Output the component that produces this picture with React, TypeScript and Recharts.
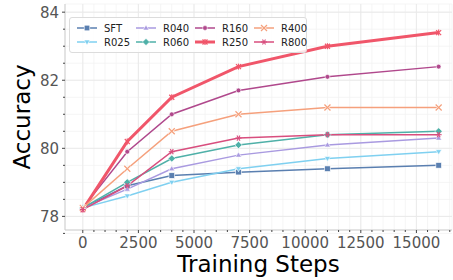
import React from 'react';
import { LineChart, Line, XAxis, YAxis, CartesianGrid, ReferenceLine } from 'recharts';

const steps = [0, 2000, 4000, 7000, 11000, 16000];

const sft = [78.25, 78.9, 79.2, 79.3, 79.4, 79.5];
const r025 = [78.25, 78.6, 79.0, 79.4, 79.7, 79.9];
const r040 = [78.25, 78.8, 79.4, 79.8, 80.1, 80.3];
const r060 = [78.25, 79.0, 79.7, 80.1, 80.4, 80.5];
const r160 = [78.25, 79.9, 81.0, 81.7, 82.1, 82.4];
const r250 = [78.2, 80.2, 81.5, 82.4, 83.0, 83.4];
const r400 = [78.25, 79.4, 80.5, 81.0, 81.2, 81.2];
const r800 = [78.2, 78.9, 79.9, 80.3, 80.4, 80.4];

const xTicks = Array.from({ length: 34 }, (_, i) => i * 500);
const xMajor = [0, 2500, 5000, 7500, 10000, 12500, 15000];
const yTicks = [77.5, 78, 78.5, 79, 79.5, 80, 80.5, 81, 81.5, 82, 82.5, 83, 83.5, 84];
const yMajor = [78, 80, 82, 84];

type Kind = 'square' | 'triDown' | 'triUp' | 'diamond' | 'circle' | 'star' | 'x' | 'star6';

const series: { key: string; name: string; values: number[]; color: string; width: number; kind: Kind }[] = [
  { key: 'sft', name: 'SFT', values: sft, color: '#5a7fb0', width: 1.5, kind: 'square' },
  { key: 'r025', name: 'R025', values: r025, color: '#7fd0f0', width: 1.5, kind: 'triDown' },
  { key: 'r040', name: 'R040', values: r040, color: '#a99ae0', width: 1.5, kind: 'triUp' },
  { key: 'r060', name: 'R060', values: r060, color: '#4fb0a8', width: 1.5, kind: 'diamond' },
  { key: 'r160', name: 'R160', values: r160, color: '#b0488c', width: 1.5, kind: 'circle' },
  { key: 'r250', name: 'R250', values: r250, color: '#f0566a', width: 3, kind: 'star' },
  { key: 'r400', name: 'R400', values: r400, color: '#f5a07c', width: 1.5, kind: 'x' },
  { key: 'r800', name: 'R800', values: r800, color: '#d84e7e', width: 1.5, kind: 'star6' },
];

const data = steps.map((step, i) => {
  const row: Record<string, number> = { step };
  series.forEach((s) => (row[s.key] = s.values[i]));
  return row;
});

const Marker = ({ kind, cx, cy, color }: { kind: Kind; cx: number; cy: number; color: string }) => {
  const st = { fill: color, stroke: '#fff', strokeWidth: 0.6 };
  switch (kind) {
    case 'square':
      return <rect x={cx - 2.8} y={cy - 2.8} width={5.6} height={5.6} {...st} />;
    case 'triDown':
      return <polygon points={`${cx - 3},${cy - 2} ${cx + 3},${cy - 2} ${cx},${cy + 3}`} {...st} />;
    case 'triUp':
      return <polygon points={`${cx - 3},${cy + 2} ${cx + 3},${cy + 2} ${cx},${cy - 3}`} {...st} />;
    case 'diamond':
      return <polygon points={`${cx},${cy - 3.6} ${cx + 3.6},${cy} ${cx},${cy + 3.6} ${cx - 3.6},${cy}`} {...st} />;
    case 'circle':
      return <circle cx={cx} cy={cy} r={2.4} {...st} />;
    case 'star':
      return (
        <g stroke={color} strokeWidth={1.2}>
          <line x1={cx - 2.5} y1={cy - 2.5} x2={cx + 2.5} y2={cy + 2.5} />
          <line x1={cx - 2.5} y1={cy + 2.5} x2={cx + 2.5} y2={cy - 2.5} />
          <line x1={cx} y1={cy - 3} x2={cx} y2={cy + 3} />
        </g>
      );
    case 'x':
      return (
        <g>
          <g stroke="#fff" strokeWidth={2.4}>
            <line x1={cx - 3} y1={cy - 3} x2={cx + 3} y2={cy + 3} />
            <line x1={cx - 3} y1={cy + 3} x2={cx + 3} y2={cy - 3} />
          </g>
          <g stroke={color} strokeWidth={1.2}>
            <line x1={cx - 3} y1={cy - 3} x2={cx + 3} y2={cy + 3} />
            <line x1={cx - 3} y1={cy + 3} x2={cx + 3} y2={cy - 3} />
          </g>
        </g>
      );
    default:
      return (
        <g stroke={color} strokeWidth={1.1}>
          <line x1={cx - 3} y1={cy} x2={cx + 3} y2={cy} />
          <line x1={cx - 1.5} y1={cy - 2.6} x2={cx + 1.5} y2={cy + 2.6} />
          <line x1={cx - 1.5} y1={cy + 2.6} x2={cx + 1.5} y2={cy - 2.6} />
        </g>
      );
  }
};

const font = 'DejaVu Sans, sans-serif';

const XTick = (props: any) => {
  const { x, y, payload } = props;
  const major = xMajor.includes(payload.value);
  return (
    <g>
      <line x1={x} y1={y} x2={x} y2={y + (major ? 3 : 2)} stroke="#444" strokeWidth={1} />
      {major && (
        <text x={x} y={y + 18} textAnchor="middle" fontSize={15} fill="#555" fontFamily={font}>
          {payload.value}
        </text>
      )}
    </g>
  );
};

const YTick = (props: any) => {
  const { x, y, payload } = props;
  const major = yMajor.includes(payload.value);
  return (
    <g>
      <line x1={x} y1={y} x2={x - (major ? 3 : 2)} y2={y} stroke="#444" strokeWidth={1} />
      {major && (
        <text x={x - 6} y={y + 6} textAnchor="end" fontSize={15} fill="#555" fontFamily={font}>
          {payload.value}
        </text>
      )}
    </g>
  );
};

const Legend = () => (
  <div
    style={{
      position: 'absolute',
      left: 69,
      top: 17,
      width: 238,
      height: 36,
      border: '1px solid #dcdcdc',
      borderRadius: 3,
      background: 'rgba(255,255,255,0.85)',
      display: 'grid',
      gridTemplateColumns: 'repeat(4, 59px)',
      gridTemplateRows: 'repeat(2, 14px)',
      gridAutoFlow: 'column',
      padding: '3px 0 0 6px',
      boxSizing: 'border-box',
      fontFamily: font,
      fontSize: 10,
      color: '#222',
    }}
  >
    {series.map((s) => (
      <div key={s.key} style={{ display: 'flex', alignItems: 'center' }}>
        <svg width={26} height={12} style={{ marginRight: 2 }}>
          <line x1={1} y1={6} x2={21} y2={6} stroke={s.color} strokeWidth={s.width} />
          <Marker kind={s.kind} cx={11} cy={6} color={s.color} />
        </svg>
        <span>{s.name}</span>
      </div>
    ))}
  </div>
);

export default function App() {
  return (
    <div style={{ position: 'absolute', left: 0, top: 0, width: 453, height: 280, background: '#fff' }}>
      <LineChart width={453} height={280} data={data} margin={{ top: 4, right: 1, left: 0, bottom: 0 }}>
        <CartesianGrid stroke="#f3f3f3" strokeWidth={0.8} />
        {yMajor.map((v) => (
          <ReferenceLine key={'y' + v} y={v} stroke="#e9e9e9" strokeWidth={0.9} />
        ))}
        {xMajor.map((v) => (
          <ReferenceLine key={'x' + v} x={v} stroke="#e9e9e9" strokeWidth={0.9} />
        ))}
        <XAxis
          type="number"
          dataKey="step"
          domain={[-800, 16600]}
          ticks={xTicks}
          interval={0}
          allowDataOverflow
          height={50}
          tickLine={false}
          tickSize={0}
          tickMargin={0}
          axisLine={{ stroke: '#cccccc' }}
          tick={<XTick />}
          label={{
            value: 'Training Steps',
            position: 'insideBottom',
            offset: 8,
            fontSize: 23,
            fill: '#000',
            fontFamily: font,
          }}
        />
        <YAxis
          type="number"
          domain={[77.6, 84.24]}
          ticks={yTicks}
          interval={0}
          allowDataOverflow
          width={65}
          tickLine={false}
          tickSize={0}
          tickMargin={0}
          axisLine={{ stroke: '#cccccc' }}
          tick={<YTick />}
          label={{
            value: 'Accuracy',
            angle: -90,
            position: 'insideLeft',
            offset: 22,
            fontSize: 23,
            fill: '#000',
            fontFamily: font,
            style: { textAnchor: 'middle' },
          }}
        />
        {series.map((s) => (
          <Line
            key={s.key}
            dataKey={s.key}
            name={s.name}
            stroke={s.color}
            strokeWidth={s.width}
            isAnimationActive={false}
            dot={(p: any) => <Marker key={s.key + p.index} kind={s.kind} cx={p.cx} cy={p.cy} color={s.color} />}
            activeDot={false}
          />
        ))}
      </LineChart>
      <Legend />
    </div>
  );
}
